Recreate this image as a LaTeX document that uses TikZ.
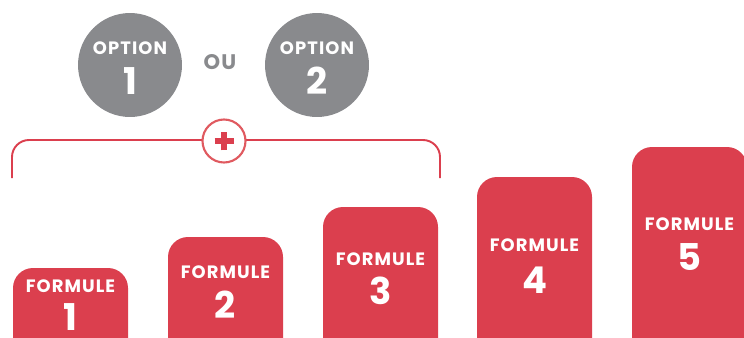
\documentclass[tikz,border=0pt]{standalone}
\usepackage{fontspec}
\setmainfont{Poppins}
\newfontfamily\capfont{Poppins}[LetterSpace=6]
\usepackage{tikz}
\usetikzlibrary{positioning}

\definecolor{formred}{HTML}{DB3F4E}
\definecolor{optgray}{HTML}{898A8D}
\definecolor{ringred}{HTML}{E05A60}

\tikzset{
  formbox/.style={fill=formred, rounded corners=0.4cm},
  optcircle/.style={circle, fill=optgray, minimum size=2.08cm, inner sep=0pt},
  captext/.style={text=white, font=\capfont\bfseries\fontsize{10.2}{12}\selectfont},
  bigdigit/.style={text=white, inner sep=0pt, font=\bfseries\fontsize{21}{24}\selectfont},
  bracket/.style={draw=formred, line width=1.1pt, rounded corners=0.34cm},
  plusring/.style={circle, draw=ringred, line width=1.2pt, fill=white, minimum size=0.86cm, inner sep=0pt}
}

\begin{document}
\begin{tikzpicture}[x=0.02cm, y=-0.02cm]
  \useasboundingbox (0,0) rectangle (744,338);
  \clip (0,0) rectangle (744,338);

  % Options
  \node[optcircle] (opt1) at (130,65) {};
  \node[optcircle] (opt2) at (317,65) {};
  \node[captext] (opt1t) at (130,48) {OPTION};
  \node[bigdigit] (opt1n) at (130,81) {1};
  \node[captext] (opt2t) at (317,48) {OPTION};
  \node[bigdigit] (opt2n) at (317,81) {2};
  \node[text=optgray, font=\capfont\bfseries\fontsize{12}{14}\selectfont] (ou) at (220,62) {OU};

  % Bracket with plus
  \coordinate (brl) at (12,178);
  \coordinate (brr) at (440,178);
  \draw[bracket] (brl) -- (12,140) -- (440,140) -- (brr);
  \node[plusring] (plus) at (224,141) {};
  \draw[formred, line width=3.2pt] ([xshift=-0.19cm]plus.center) -- ([xshift=0.19cm]plus.center);
  \draw[formred, line width=3.2pt] ([yshift=-0.19cm]plus.center) -- ([yshift=0.19cm]plus.center);

  % Formules
  \foreach \i/\x/\top/\ty/\dy in {1/13/268/286/317, 2/168/237/272/305, 3/323/207/259/291, 4/477/177/245/280, 5/632/147/224/257} {
    \fill[formbox] (\x,\top) rectangle (\x+115,360);
    \node[captext] (form\i) at (\x+57.5,\ty) {FORMULE};
    \node[bigdigit] (num\i) at (\x+57.5,\dy) {\i};
  }
\end{tikzpicture}
\end{document}
